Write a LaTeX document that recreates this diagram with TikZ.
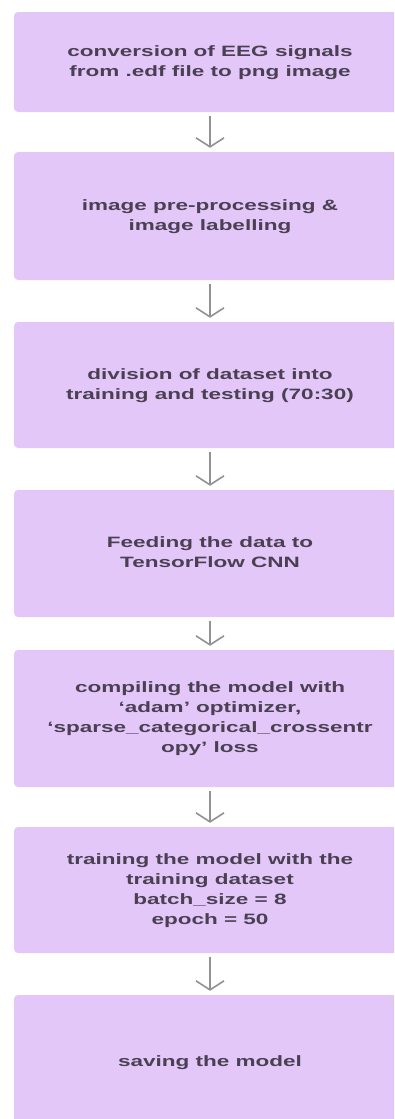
\documentclass[tikz,border=0pt]{standalone}
\usepackage{fontspec}
\setmainfont{Liberation Sans}
\usetikzlibrary{arrows.meta}
\definecolor{boxfill}{HTML}{E3C7F9}
\definecolor{txt}{HTML}{4A4052}
\definecolor{arrcol}{HTML}{929292}
\newcommand\bxtext[1]{\scalebox{1.5}[1]{\begin{tabular}{@{}c@{}}#1\end{tabular}}}
\begin{document}
\begin{tikzpicture}[x=1pt,y=-1pt,
  stepbox/.style={fill=boxfill, draw=none, rounded corners=4pt, minimum width=392pt,
    inner sep=0pt, text=txt, font=\bfseries\fontsize{15}{20}\selectfont, align=center},
  arr/.style={draw=arrcol, line width=1.6pt, -{Straight Barb[length=9pt,width=28pt]}}]
\useasboundingbox (0,0) rectangle (394,1119);
\fill[white] (0,0) rectangle (394,1119);
\clip (0,0) rectangle (394,1119);
\node[stepbox, minimum height=100pt] (b1) at (210,62) {\bxtext{conversion of EEG signals\\from .edf file to png image}};
\node[stepbox, minimum height=128pt] (b2) at (210,216) {\bxtext{image pre-processing \&\\image labelling}};
\node[stepbox, minimum height=126pt] (b3) at (210,385) {\bxtext{division of dataset into\\training and testing (70:30)}};
\node[stepbox, minimum height=127pt] (b4) at (210,553.5) {\bxtext{Feeding the data to\\TensorFlow CNN}};
\node[stepbox, minimum height=137pt] (b5) at (210,718.5) {\bxtext{compiling the model with\\‘adam’ optimizer,\\‘sparse\_categorical\_crossentr\\opy’ loss}};
\node[stepbox, minimum height=126pt] (b6) at (210,890) {\bxtext{training the model with the\\training dataset\\batch\_size = 8\\epoch = 50}};
\node[stepbox, minimum height=134pt] (b7) at (210,1062) {\bxtext{saving the model}};
\draw[arr] ([yshift=-4pt]b1.south) -- ([yshift=4pt]b2.north);
\draw[arr] ([yshift=-4pt]b2.south) -- ([yshift=4pt]b3.north);
\draw[arr] ([yshift=-4pt]b3.south) -- ([yshift=4pt]b4.north);
\draw[arr] ([yshift=-4pt]b4.south) -- ([yshift=4pt]b5.north);
\draw[arr] ([yshift=-4pt]b5.south) -- ([yshift=4pt]b6.north);
\draw[arr] ([yshift=-4pt]b6.south) -- ([yshift=4pt]b7.north);
\end{tikzpicture}
\end{document}
